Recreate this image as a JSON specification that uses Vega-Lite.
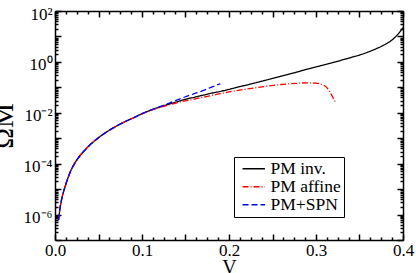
{
  "$schema": "https://vega.github.io/schema/vega-lite/v6.json",
  "width": 348,
  "height": 229,
  "autosize": {"type": "none"},
  "padding": {"left": 55, "top": 11, "right": 13, "bottom": 33},
  "background": "white",
  "config": {
    "view": {"stroke": null},
    "font": "Liberation Serif, serif",
    "axis": {"grid": false, "domainColor": "black", "domainWidth": 1.5, "tickColor": "black", "tickWidth": 1.5, "tickOpacity": 1, "labelColor": "black", "titleColor": "black", "labelFont": "Liberation Serif, serif", "titleFont": "Liberation Serif, serif", "labelFontSize": 17, "titleFontWeight": "normal"}
  },
  "data": {"values": [
    {"s": "PM inv.", "v": 0.004, "om": 6.0e-7},
    {"s": "PM inv.", "v": 0.006, "om": 2.0e-6},
    {"s": "PM inv.", "v": 0.008, "om": 4.5e-6},
    {"s": "PM inv.", "v": 0.010, "om": 8.3e-6},
    {"s": "PM inv.", "v": 0.0125, "om": 1.58e-5},
    {"s": "PM inv.", "v": 0.015, "om": 2.8e-5},
    {"s": "PM inv.", "v": 0.0175, "om": 4.7e-5},
    {"s": "PM inv.", "v": 0.02, "om": 7.1e-5},
    {"s": "PM inv.", "v": 0.025, "om": 1.38e-4},
    {"s": "PM inv.", "v": 0.03, "om": 2.34e-4},
    {"s": "PM inv.", "v": 0.035, "om": 3.6e-4},
    {"s": "PM inv.", "v": 0.04, "om": 5.4e-4},
    {"s": "PM inv.", "v": 0.05, "om": 1.05e-3},
    {"s": "PM inv.", "v": 0.06, "om": 1.82e-3},
    {"s": "PM inv.", "v": 0.07, "om": 2.9e-3},
    {"s": "PM inv.", "v": 0.08, "om": 4.4e-3},
    {"s": "PM inv.", "v": 0.09, "om": 6.3e-3},
    {"s": "PM inv.", "v": 0.10, "om": 9.1e-3},
    {"s": "PM inv.", "v": 0.11, "om": 0.0126},
    {"s": "PM inv.", "v": 0.12, "om": 0.0166},
    {"s": "PM inv.", "v": 0.13, "om": 0.0214},
    {"s": "PM inv.", "v": 0.14, "om": 0.0269},
    {"s": "PM inv.", "v": 0.15, "om": 0.0339},
    {"s": "PM inv.", "v": 0.16, "om": 0.0407},
    {"s": "PM inv.", "v": 0.17, "om": 0.049},
    {"s": "PM inv.", "v": 0.18, "om": 0.0589},
    {"s": "PM inv.", "v": 0.19, "om": 0.0692},
    {"s": "PM inv.", "v": 0.20, "om": 0.0832},
    {"s": "PM inv.", "v": 0.22, "om": 0.123},
    {"s": "PM inv.", "v": 0.24, "om": 0.182},
    {"s": "PM inv.", "v": 0.26, "om": 0.275},
    {"s": "PM inv.", "v": 0.28, "om": 0.417},
    {"s": "PM inv.", "v": 0.30, "om": 0.631},
    {"s": "PM inv.", "v": 0.32, "om": 0.955},
    {"s": "PM inv.", "v": 0.34, "om": 1.48},
    {"s": "PM inv.", "v": 0.35, "om": 1.86},
    {"s": "PM inv.", "v": 0.36, "om": 2.45},
    {"s": "PM inv.", "v": 0.37, "om": 3.39},
    {"s": "PM inv.", "v": 0.38, "om": 5.0},
    {"s": "PM inv.", "v": 0.385, "om": 6.3},
    {"s": "PM inv.", "v": 0.39, "om": 8.7},
    {"s": "PM inv.", "v": 0.395, "om": 13.2},
    {"s": "PM inv.", "v": 0.4, "om": 22.4},

    {"s": "PM affine", "v": 0.004, "om": 6.0e-7},
    {"s": "PM affine", "v": 0.006, "om": 2.0e-6},
    {"s": "PM affine", "v": 0.008, "om": 4.5e-6},
    {"s": "PM affine", "v": 0.010, "om": 8.3e-6},
    {"s": "PM affine", "v": 0.0125, "om": 1.58e-5},
    {"s": "PM affine", "v": 0.015, "om": 2.8e-5},
    {"s": "PM affine", "v": 0.0175, "om": 4.7e-5},
    {"s": "PM affine", "v": 0.02, "om": 7.1e-5},
    {"s": "PM affine", "v": 0.025, "om": 1.38e-4},
    {"s": "PM affine", "v": 0.03, "om": 2.34e-4},
    {"s": "PM affine", "v": 0.035, "om": 3.6e-4},
    {"s": "PM affine", "v": 0.04, "om": 5.4e-4},
    {"s": "PM affine", "v": 0.05, "om": 1.05e-3},
    {"s": "PM affine", "v": 0.06, "om": 1.82e-3},
    {"s": "PM affine", "v": 0.07, "om": 2.9e-3},
    {"s": "PM affine", "v": 0.08, "om": 4.4e-3},
    {"s": "PM affine", "v": 0.09, "om": 6.3e-3},
    {"s": "PM affine", "v": 0.10, "om": 9.0e-3},
    {"s": "PM affine", "v": 0.11, "om": 0.0123},
    {"s": "PM affine", "v": 0.12, "om": 0.016},
    {"s": "PM affine", "v": 0.13, "om": 0.020},
    {"s": "PM affine", "v": 0.14, "om": 0.0245},
    {"s": "PM affine", "v": 0.15, "om": 0.0295},
    {"s": "PM affine", "v": 0.16, "om": 0.0347},
    {"s": "PM affine", "v": 0.17, "om": 0.0407},
    {"s": "PM affine", "v": 0.18, "om": 0.0479},
    {"s": "PM affine", "v": 0.19, "om": 0.0562},
    {"s": "PM affine", "v": 0.20, "om": 0.066},
    {"s": "PM affine", "v": 0.22, "om": 0.0851},
    {"s": "PM affine", "v": 0.24, "om": 0.107},
    {"s": "PM affine", "v": 0.26, "om": 0.129},
    {"s": "PM affine", "v": 0.28, "om": 0.145},
    {"s": "PM affine", "v": 0.29, "om": 0.151},
    {"s": "PM affine", "v": 0.30, "om": 0.145},
    {"s": "PM affine", "v": 0.305, "om": 0.135},
    {"s": "PM affine", "v": 0.31, "om": 0.115},
    {"s": "PM affine", "v": 0.313, "om": 0.093},
    {"s": "PM affine", "v": 0.316, "om": 0.066},
    {"s": "PM affine", "v": 0.319, "om": 0.0427},
    {"s": "PM affine", "v": 0.322, "om": 0.0275},

    {"s": "PM+SPN", "v": 0.004, "om": 6.0e-7},
    {"s": "PM+SPN", "v": 0.006, "om": 2.0e-6},
    {"s": "PM+SPN", "v": 0.008, "om": 4.5e-6},
    {"s": "PM+SPN", "v": 0.010, "om": 8.3e-6},
    {"s": "PM+SPN", "v": 0.0125, "om": 1.58e-5},
    {"s": "PM+SPN", "v": 0.015, "om": 2.8e-5},
    {"s": "PM+SPN", "v": 0.0175, "om": 4.7e-5},
    {"s": "PM+SPN", "v": 0.02, "om": 7.1e-5},
    {"s": "PM+SPN", "v": 0.025, "om": 1.38e-4},
    {"s": "PM+SPN", "v": 0.03, "om": 2.34e-4},
    {"s": "PM+SPN", "v": 0.035, "om": 3.6e-4},
    {"s": "PM+SPN", "v": 0.04, "om": 5.4e-4},
    {"s": "PM+SPN", "v": 0.05, "om": 1.05e-3},
    {"s": "PM+SPN", "v": 0.06, "om": 1.82e-3},
    {"s": "PM+SPN", "v": 0.07, "om": 2.9e-3},
    {"s": "PM+SPN", "v": 0.08, "om": 4.4e-3},
    {"s": "PM+SPN", "v": 0.09, "om": 6.3e-3},
    {"s": "PM+SPN", "v": 0.10, "om": 9.2e-3},
    {"s": "PM+SPN", "v": 0.11, "om": 0.0128},
    {"s": "PM+SPN", "v": 0.12, "om": 0.0172},
    {"s": "PM+SPN", "v": 0.13, "om": 0.0229},
    {"s": "PM+SPN", "v": 0.14, "om": 0.0316},
    {"s": "PM+SPN", "v": 0.15, "om": 0.0427},
    {"s": "PM+SPN", "v": 0.16, "om": 0.0562},
    {"s": "PM+SPN", "v": 0.17, "om": 0.0741},
    {"s": "PM+SPN", "v": 0.18, "om": 0.102},
    {"s": "PM+SPN", "v": 0.19, "om": 0.138}
  ]},
  "resolve": {"axis": {"x": "independent", "y": "independent"}},
  "layer": [
    {
      "mark": {"type": "line", "strokeWidth": 1.3, "interpolate": "monotone"},
      "encoding": {
        "x": {"field": "v", "type": "quantitative",
          "scale": {"domain": [0, 0.4], "nice": false},
          "axis": {"orient": "bottom", "title": "V", "titleFontSize": 20, "titlePadding": -1,
            "values": [0, 0.1, 0.2, 0.3, 0.4], "format": ".1f",
            "ticks": false, "labelPadding": 2, "labelFlush": false, "labelOverlap": false
          }},
        "y": {"field": "om", "type": "quantitative",
          "scale": {"type": "log", "domain": [1e-7, 100], "nice": false},
          "axis": {"orient": "left", "title": "ΩM", "titleFontSize": 28, "titlePadding": 5,
            "values": [1e-6, 1e-4, 0.01, 1, 100],
            "labelExpr": "abs(log(datum.value)/LN10 - 2) < 1e-6 ? '10²' : (abs(log(datum.value)/LN10) < 1e-6 ? '10⁰' : (abs(log(datum.value)/LN10 + 2) < 1e-6 ? '10⁻²' : (abs(log(datum.value)/LN10 + 4) < 1e-6 ? '10⁻⁴' : '10⁻⁶')))",
            "ticks": false, "labelPadding": 3, "labelOffset": 3, "labelFlush": false, "labelOverlap": false
          }},
        "color": {"field": "s", "type": "nominal",
          "scale": {"domain": ["PM inv.", "PM affine", "PM+SPN"], "range": ["#000000", "#ff0000", "#0000ff"]},
          "legend": {"orient": "none", "legendX": 179, "legendY": 146, "title": null, "symbolType": "M-2.8,0H2.8", "symbolSize": 64, "symbolStrokeWidth": 1.3, "symbolOffset": 8, "labelOffset": 8, "labelFont": "Liberation Serif, serif", "labelFontSize": 17.5, "labelColor": "black", "strokeColor": "black", "fillColor": "white", "padding": 3, "rowPadding": -1.5}},
        "strokeDash": {"field": "s", "type": "nominal",
          "scale": {"domain": ["PM inv.", "PM affine", "PM+SPN"], "range": [[1, 0], [6, 2, 1, 2], [6, 3]]}}
      }
    },
    {
      "mark": {"type": "point", "opacity": 0},
      "encoding": {
        "x": {"field": "v", "type": "quantitative",
          "scale": {"domain": [0, 0.4], "nice": false},
          "axis": {"orient": "top", "title": null, "labels": false, "ticks": false, "values": [0, 0.4]}},
        "y": {"field": "om", "type": "quantitative",
          "scale": {"type": "log", "domain": [1e-7, 100], "nice": false},
          "axis": {"orient": "right", "title": null, "labels": false, "ticks": false, "values": [1e-7, 100]}}
      }
    },
    {
      "mark": {"type": "point", "opacity": 0},
      "encoding": {
        "x": {"field": "v", "type": "quantitative",
          "scale": {"domain": [0, 0.4], "nice": false},
          "axis": {"orient": "bottom", "title": null, "labels": false, "domain": false, "ticks": true, "tickColor": "black", "offset": -6, "tickSize": 6,
            "values": [0, 0.05, 0.1, 0.15, 0.2, 0.25, 0.3, 0.35, 0.4]}},
        "y": {"field": "om", "type": "quantitative",
          "scale": {"type": "log", "domain": [1e-7, 100], "nice": false},
          "axis": {"orient": "left", "title": null, "labels": false, "domain": false, "ticks": true, "tickColor": "black", "offset": -6, "tickSize": 6,
            "values": [1e-7,1e-6,1e-5,1e-4,1e-3,0.01,0.1,1,10,100]}}
      }
    },
    {
      "mark": {"type": "point", "opacity": 0},
      "encoding": {
        "x": {"field": "v", "type": "quantitative",
          "scale": {"domain": [0, 0.4], "nice": false},
          "axis": {"orient": "top", "title": null, "labels": false, "domain": false, "ticks": true, "tickColor": "black", "offset": -6, "tickSize": 6,
            "values": [0, 0.05, 0.1, 0.15, 0.2, 0.25, 0.3, 0.35, 0.4]}},
        "y": {"field": "om", "type": "quantitative",
          "scale": {"type": "log", "domain": [1e-7, 100], "nice": false},
          "axis": {"orient": "right", "title": null, "labels": false, "domain": false, "ticks": true, "tickColor": "black", "offset": -6, "tickSize": 6,
            "values": [1e-7,1e-6,1e-5,1e-4,1e-3,0.01,0.1,1,10,100]}}
      }
    },
    {
      "mark": {"type": "point", "opacity": 0},
      "encoding": {
        "x": {"field": "v", "type": "quantitative",
          "scale": {"domain": [0, 0.4], "nice": false},
          "axis": {"orient": "bottom", "title": null, "labels": false, "domain": false, "ticks": true, "tickColor": "black", "offset": -3, "tickSize": 3,
            "values": [0.0125, 0.025, 0.0375, 0.0625, 0.075, 0.0875, 0.1125, 0.125, 0.1375, 0.1625, 0.175, 0.1875, 0.2125, 0.225, 0.2375, 0.2625, 0.275, 0.2875, 0.3125, 0.325, 0.3375, 0.3625, 0.375, 0.3875]}},
        "y": {"field": "om", "type": "quantitative",
          "scale": {"type": "log", "domain": [1e-7, 100], "nice": false},
          "axis": {"orient": "left", "title": null, "labels": false, "domain": false, "ticks": true, "tickColor": "black", "offset": -3, "tickSize": 3,
            "values": [2e-7,3e-7,4e-7,5e-7,6e-7,7e-7,8e-7,9e-7,2e-6,3e-6,4e-6,5e-6,6e-6,7e-6,8e-6,9e-6,2e-5,3e-5,4e-5,5e-5,6e-5,7e-5,8e-5,9e-5,2e-4,3e-4,4e-4,5e-4,6e-4,7e-4,8e-4,9e-4,2e-3,3e-3,4e-3,5e-3,6e-3,7e-3,8e-3,9e-3,0.02,0.03,0.04,0.05,0.06,0.07,0.08,0.09,0.2,0.3,0.4,0.5,0.6,0.7,0.8,0.9,2,3,4,5,6,7,8,9,20,30,40,50,60,70,80,90]}}
      }
    },
    {
      "mark": {"type": "point", "opacity": 0},
      "encoding": {
        "x": {"field": "v", "type": "quantitative",
          "scale": {"domain": [0, 0.4], "nice": false},
          "axis": {"orient": "top", "title": null, "labels": false, "domain": false, "ticks": true, "tickColor": "black", "offset": -3, "tickSize": 3,
            "values": [0.0125, 0.025, 0.0375, 0.0625, 0.075, 0.0875, 0.1125, 0.125, 0.1375, 0.1625, 0.175, 0.1875, 0.2125, 0.225, 0.2375, 0.2625, 0.275, 0.2875, 0.3125, 0.325, 0.3375, 0.3625, 0.375, 0.3875]}},
        "y": {"field": "om", "type": "quantitative",
          "scale": {"type": "log", "domain": [1e-7, 100], "nice": false},
          "axis": {"orient": "right", "title": null, "labels": false, "domain": false, "ticks": true, "tickColor": "black", "offset": -3, "tickSize": 3,
            "values": [2e-7,3e-7,4e-7,5e-7,6e-7,7e-7,8e-7,9e-7,2e-6,3e-6,4e-6,5e-6,6e-6,7e-6,8e-6,9e-6,2e-5,3e-5,4e-5,5e-5,6e-5,7e-5,8e-5,9e-5,2e-4,3e-4,4e-4,5e-4,6e-4,7e-4,8e-4,9e-4,2e-3,3e-3,4e-3,5e-3,6e-3,7e-3,8e-3,9e-3,0.02,0.03,0.04,0.05,0.06,0.07,0.08,0.09,0.2,0.3,0.4,0.5,0.6,0.7,0.8,0.9,2,3,4,5,6,7,8,9,20,30,40,50,60,70,80,90]}}
      }
    }
  ]
}
